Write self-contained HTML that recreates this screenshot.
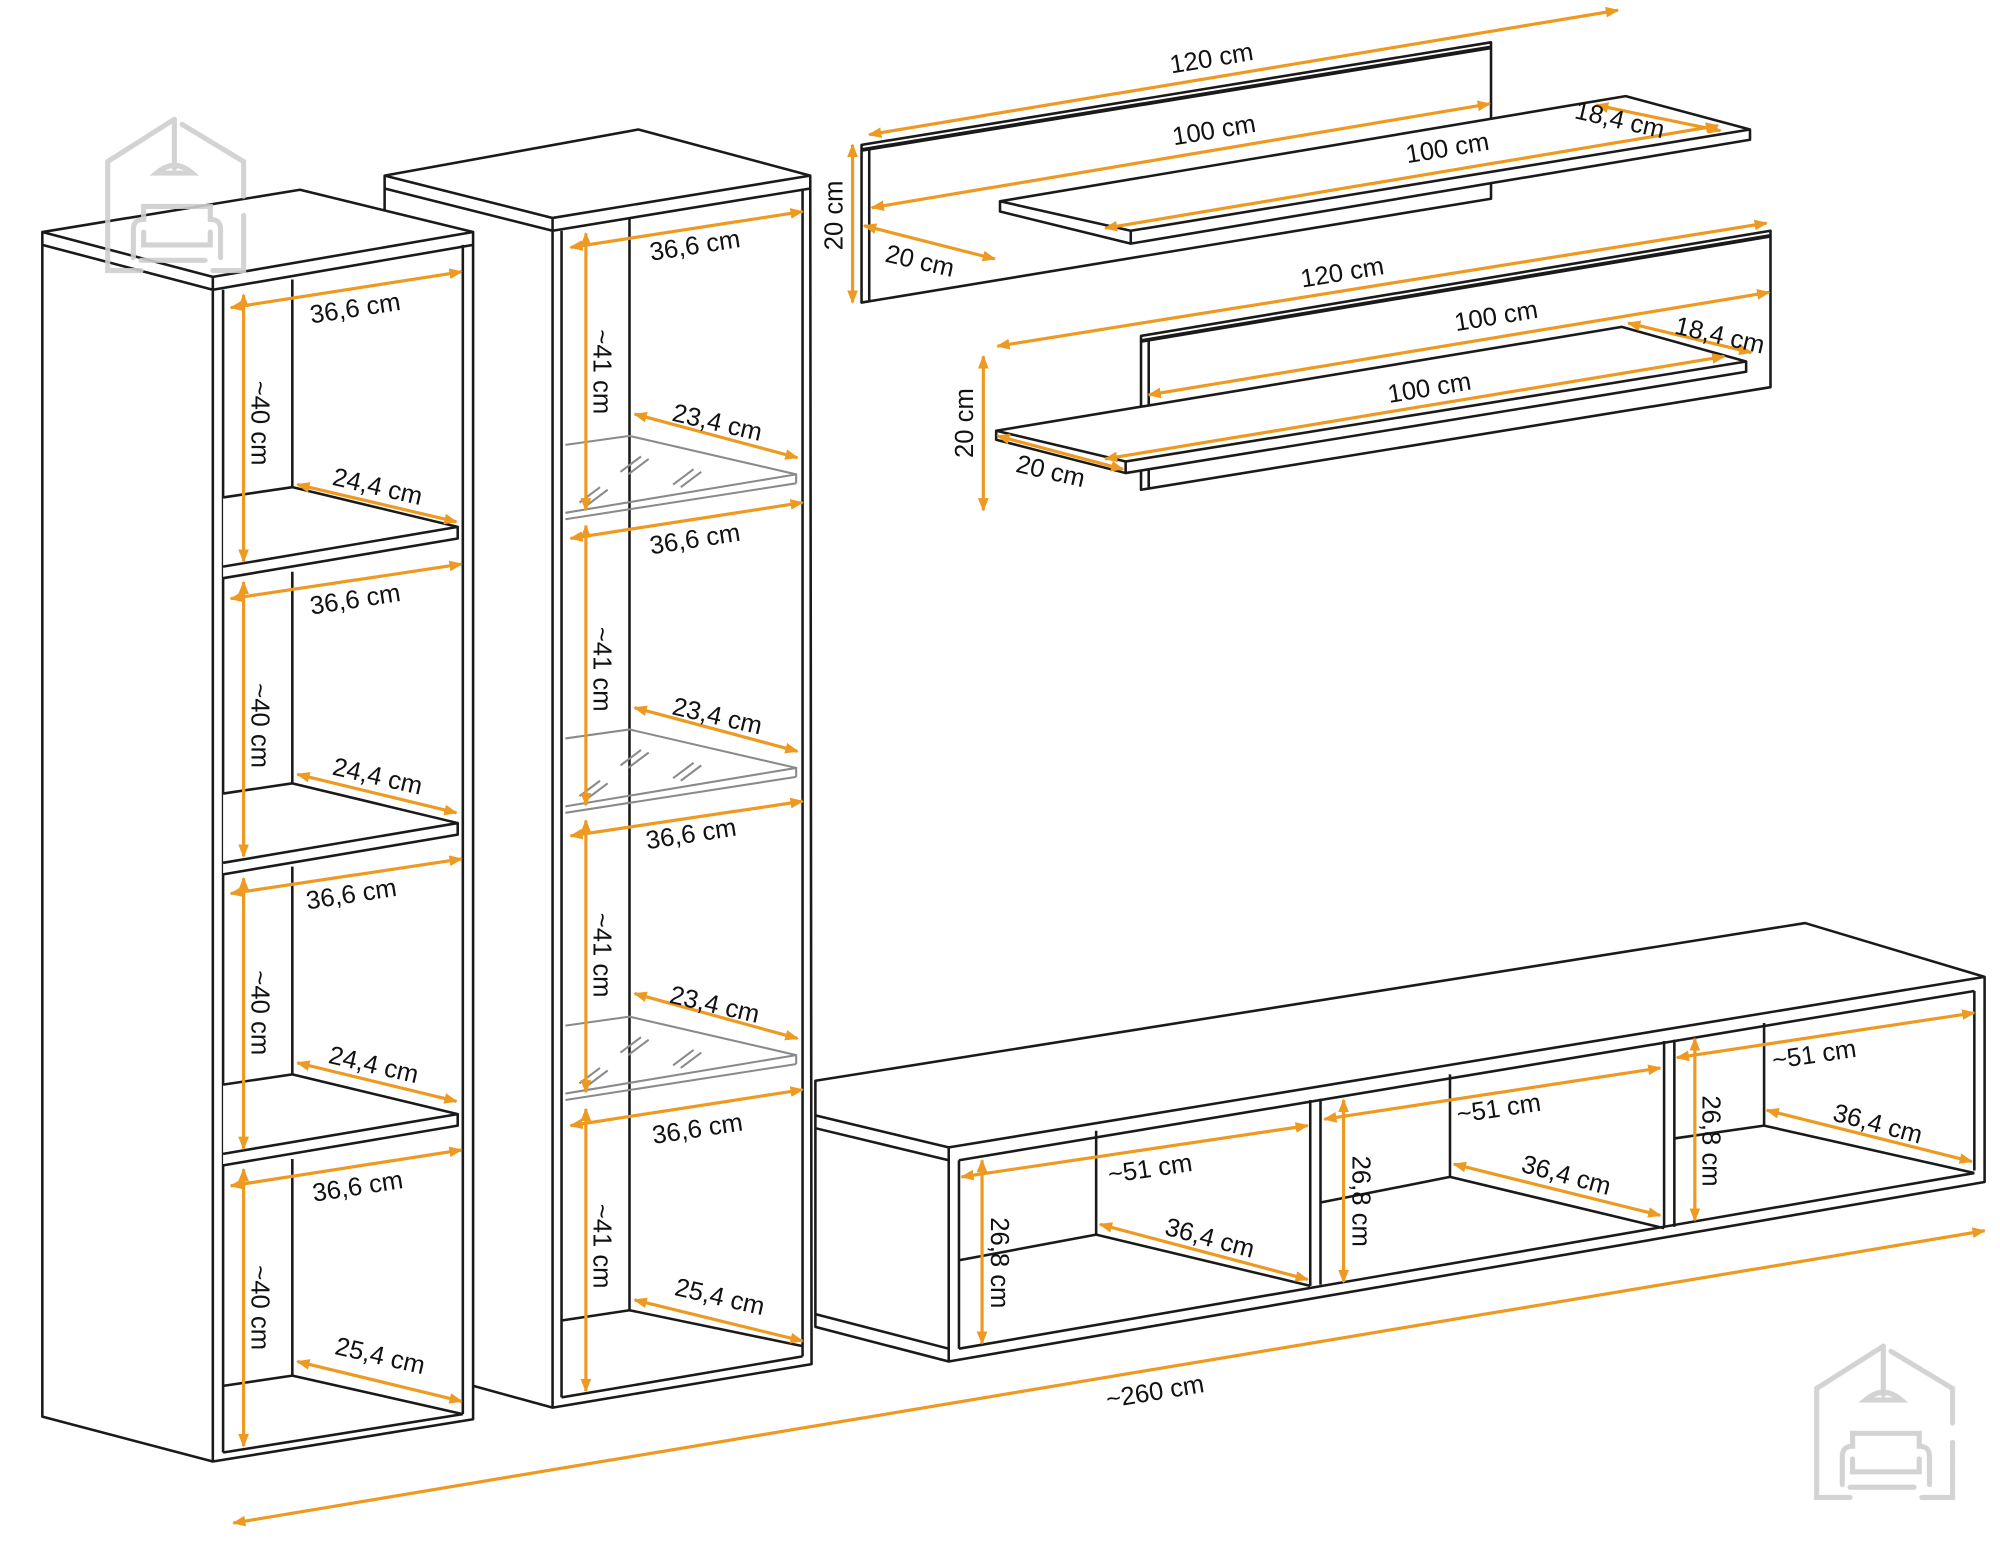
<!DOCTYPE html>
<html><head><meta charset="utf-8"><style>html,body{margin:0;padding:0;background:#fff}svg{display:block}</style></head>
<body>
<svg width="2000" height="1541" viewBox="0 0 1560 1202" xmlns="http://www.w3.org/2000/svg">
<defs>
<marker id="a" viewBox="0 0 10 10" refX="9" refY="5" markerWidth="4.2" markerHeight="4.2" orient="auto-start-reverse" markerUnits="strokeWidth"><path d="M0,1 L10,5 L0,9 Z" fill="#EE9A22"/></marker>
</defs>
<rect width="1560" height="1202" fill="#fff"/>

<g fill="none" stroke="#1a1a1a" stroke-width="2" stroke-linejoin="round">
<!-- wall shelf 1 -->
<polygon points="672,113 1163,33 1163,155 672,236" fill="#fff"/>
<line x1="672" y1="117" x2="1163" y2="37" stroke-width="3"/>
<line x1="678" y1="116" x2="678" y2="235"/>
<polygon points="780,157 1268,75 1365,101 1365,109 882,190 780,165" fill="#fff"/>
<polyline points="780,157 882,180 1365,101"/>
<line x1="882" y1="180" x2="882" y2="190"/>

<!-- wall shelf 2 -->
<polygon points="890,262 1381,180 1381,302 890,382" fill="#fff"/>
<line x1="890" y1="266" x2="1381" y2="184" stroke-width="3"/>
<line x1="896" y1="265" x2="896" y2="381"/>
<polygon points="777,336 1265,255 1362,282 1362,290 878,369 777,343" fill="#fff"/>
<polyline points="777,336 878,360 1362,282"/>
<line x1="878" y1="360" x2="878" y2="369"/>

<!-- TV unit -->
<polygon points="636,843 1408,720 1548,762 1548,922 740,1062 636,1035" fill="#fff"/>
<polyline points="636,870 740,895 1548,762"/>
<polyline points="636,880 740,905"/>
<line x1="748" y1="905" x2="1540" y2="773"/>
<line x1="740" y1="895" x2="740" y2="1062"/>
<line x1="748" y1="905" x2="748" y2="1052"/>
<line x1="1540" y1="773" x2="1540" y2="913"/>
<line x1="748" y1="1052" x2="1540" y2="915"/>
<line x1="636" y1="1025" x2="740" y2="1052"/>
<line x1="1022" y1="858" x2="1022" y2="1003"/>
<line x1="1030" y1="857" x2="1030" y2="1002"/>
<line x1="1298" y1="812" x2="1298" y2="958"/>
<line x1="1306" y1="811" x2="1306" y2="957"/>
<polyline points="855,882 855,963 1022,1003"/><line x1="748" y1="983" x2="855" y2="963"/>
<polyline points="1131,838 1131,918 1298,958"/><line x1="1030" y1="938" x2="1131" y2="918"/>
<polyline points="1376,798 1376,878 1540,915"/><line x1="1306" y1="888" x2="1376" y2="878"/>

<!-- middle cabinet -->
<polygon points="300,137 498,101 632,137 633,1064 431,1098 300,1062" fill="#fff"/>
<polyline points="300,137 431,170 632,137"/>
<polyline points="300,147 431,180 632,147"/>
<line x1="431" y1="170" x2="431" y2="1098"/>
<line x1="438" y1="180" x2="438" y2="1090"/>
<line x1="626" y1="147" x2="626" y2="1058"/>
<line x1="491" y1="170" x2="491" y2="1022"/>
<polyline points="438,1030 491,1022 626,1050"/>
<line x1="438" y1="1090" x2="626" y2="1058"/>
</g>

<!-- glass shelves -->
<g fill="none" stroke="#8a8a8a" stroke-width="1.6">
 <g>
  <polyline points="441,347 491,340 621,370 621,377"/><line x1="441" y1="400" x2="621" y2="370"/><line x1="441" y1="405" x2="621" y2="377"/>
  <path d="M452,392 l16,-12 M458,394 l16,-12 M484,368 l16,-12 M490,370 l16,-12 M525,378 l16,-12 M531,380 l16,-12"/>
 </g>
 <g transform="translate(0,229)">
  <polyline points="441,347 491,340 621,370 621,377"/><line x1="441" y1="400" x2="621" y2="370"/><line x1="441" y1="405" x2="621" y2="377"/>
  <path d="M452,392 l16,-12 M458,394 l16,-12 M484,368 l16,-12 M490,370 l16,-12 M525,378 l16,-12 M531,380 l16,-12"/>
 </g>
 <g transform="translate(0,453)">
  <polyline points="441,347 491,340 621,370 621,377"/><line x1="441" y1="400" x2="621" y2="370"/><line x1="441" y1="405" x2="621" y2="377"/>
  <path d="M452,392 l16,-12 M458,394 l16,-12 M484,368 l16,-12 M490,370 l16,-12 M525,378 l16,-12 M531,380 l16,-12"/>
 </g>
</g>

<!-- left cabinet -->
<g fill="none" stroke="#1a1a1a" stroke-width="2" stroke-linejoin="round">
<polygon points="33,181 234,148 369,181 369,1107 166,1140 33,1105" fill="#fff"/>
<polyline points="33,181 166,216 369,181"/>
<polyline points="33,191 166,226 369,191"/>
<line x1="166" y1="216" x2="166" y2="1140"/>
<line x1="174" y1="226" x2="174" y2="1133"/>
<line x1="361" y1="191" x2="361" y2="1103"/>
<line x1="174" y1="1133" x2="361" y2="1103"/>
<line x1="228" y1="218" x2="228" y2="380"/>
<line x1="228" y1="446" x2="228" y2="611"/>
<line x1="228" y1="676" x2="228" y2="838"/>
<line x1="228" y1="904" x2="228" y2="1073"/>
<polyline points="174,1081 228,1073 361,1103"/>
<g>
 <polyline points="174,388 228,380 357,411 357,420 174,451" fill="#fff"/><line x1="174" y1="442" x2="357" y2="411"/>
</g>
<g transform="translate(0,231)">
 <polyline points="174,388 228,380 357,411 357,420 174,451" fill="#fff"/><line x1="174" y1="442" x2="357" y2="411"/>
</g>
<g transform="translate(0,458)">
 <polyline points="174,388 228,380 357,411 357,420 174,451" fill="#fff"/><line x1="174" y1="442" x2="357" y2="411"/>
</g>
</g>

<!-- logos (drawn on top) -->
<g fill="none" stroke="#cfcfcf" stroke-width="4" stroke-linecap="round" opacity="0.9">
 <g transform="translate(82,93)">
  <path d="M2,100 V33 L54,0 M60,4 L108,33 V60 M108,75 V118 H84 M2,90 V118 H28"/>
  <path d="M54,0 V38 M40,42 Q54,30 68,42 Z"/>
  <path d="M22,108 V86 Q22,78 30,78 V68 H82 V78 Q90,78 90,86 V108 M30,88 V98 H82 V88 M28,110 H78"/>
 </g>
 <g transform="translate(1415,1050)">
  <path d="M2,100 V33 L54,0 M60,4 L108,33 V60 M108,75 V118 H84 M2,90 V118 H28"/>
  <path d="M54,0 V38 M40,42 Q54,30 68,42 Z"/>
  <path d="M22,108 V86 Q22,78 30,78 V68 H82 V78 Q90,78 90,86 V108 M30,88 V98 H82 V88 M28,110 H78"/>
 </g>
</g>

<!-- dimension lines -->
<g stroke="#EE9A22" stroke-width="2.5" fill="none" marker-start="url(#a)" marker-end="url(#a)">
 <line x1="180" y1="240" x2="360" y2="212"/><line x1="180" y1="467" x2="360" y2="440"/>
 <line x1="180" y1="697" x2="360" y2="670"/><line x1="180" y1="925" x2="360" y2="897"/>
 <line x1="190" y1="230" x2="190" y2="438"/><line x1="190" y1="454" x2="190" y2="668"/>
 <line x1="190" y1="685" x2="190" y2="896"/><line x1="190" y1="912" x2="190" y2="1128"/>
 <line x1="232" y1="378" x2="356" y2="407"/><line x1="232" y1="604" x2="356" y2="634"/>
 <line x1="232" y1="829" x2="356" y2="859"/><line x1="232" y1="1062" x2="360" y2="1093"/>

 <line x1="445" y1="193" x2="626" y2="165"/><line x1="445" y1="420" x2="626" y2="392"/>
 <line x1="445" y1="652" x2="626" y2="625"/><line x1="445" y1="878" x2="626" y2="850"/>
 <line x1="457" y1="182" x2="457" y2="398"/><line x1="457" y1="410" x2="457" y2="628"/>
 <line x1="457" y1="640" x2="457" y2="852"/><line x1="457" y1="865" x2="457" y2="1085"/>
 <line x1="495" y1="323" x2="622" y2="357"/><line x1="495" y1="552" x2="622" y2="586"/>
 <line x1="495" y1="775" x2="622" y2="810"/><line x1="495" y1="1014" x2="626" y2="1046"/>

 <line x1="678" y1="105" x2="1262" y2="8"/>
 <line x1="680" y1="162" x2="1162" y2="81"/>
 <line x1="862" y1="178" x2="1340" y2="98"/>
 <line x1="1245" y1="82" x2="1342" y2="102"/>
 <line x1="665" y1="113" x2="665" y2="236"/>
 <line x1="674" y1="176" x2="776" y2="202"/>

 <line x1="778" y1="270" x2="1378" y2="174"/>
 <line x1="896" y1="308" x2="1380" y2="228"/>
 <line x1="1270" y1="252" x2="1366" y2="275"/>
 <line x1="862" y1="358" x2="1345" y2="278"/>
 <line x1="767" y1="278" x2="767" y2="398"/>
 <line x1="778" y1="340" x2="876" y2="366"/>

 <line x1="750" y1="918" x2="1020" y2="878"/><line x1="1033" y1="873" x2="1295" y2="833"/><line x1="1308" y1="825" x2="1540" y2="790"/>
 <line x1="766" y1="905" x2="766" y2="1048"/><line x1="1048" y1="858" x2="1048" y2="1000"/><line x1="1322" y1="810" x2="1322" y2="952"/>
 <line x1="858" y1="955" x2="1020" y2="998"/><line x1="1134" y1="908" x2="1295" y2="948"/><line x1="1378" y1="866" x2="1538" y2="906"/>
 <line x1="182" y1="1188" x2="1548" y2="960"/>
</g>

<!-- labels -->
<g font-family="Liberation Sans, Arial, sans-serif" font-size="20" fill="#111" text-anchor="middle">
 <text transform="translate(278,247) rotate(-8.7)">36,6 cm</text>
 <text transform="translate(278,474) rotate(-8.7)">36,6 cm</text>
 <text transform="translate(275,704) rotate(-8.7)">36,6 cm</text>
 <text transform="translate(280,932) rotate(-8.7)">36,6 cm</text>
 <text transform="translate(196,330) rotate(90)">~40 cm</text>
 <text transform="translate(196,566) rotate(90)">~40 cm</text>
 <text transform="translate(196,790) rotate(90)">~40 cm</text>
 <text transform="translate(196,1020) rotate(90)">~40 cm</text>
 <text transform="translate(293,386) rotate(13)">24,4 cm</text>
 <text transform="translate(293,612) rotate(13)">24,4 cm</text>
 <text transform="translate(290,837) rotate(13)">24,4 cm</text>
 <text transform="translate(295,1064) rotate(13)">25,4 cm</text>

 <text transform="translate(543,198) rotate(-8.7)">36,6 cm</text>
 <text transform="translate(543,427) rotate(-8.7)">36,6 cm</text>
 <text transform="translate(540,657) rotate(-8.7)">36,6 cm</text>
 <text transform="translate(545,887) rotate(-8.7)">36,6 cm</text>
 <text transform="translate(463,290) rotate(90)">~41 cm</text>
 <text transform="translate(463,522) rotate(90)">~41 cm</text>
 <text transform="translate(463,745) rotate(90)">~41 cm</text>
 <text transform="translate(463,972) rotate(90)">~41 cm</text>
 <text transform="translate(558,336) rotate(13)">23,4 cm</text>
 <text transform="translate(558,565) rotate(13)">23,4 cm</text>
 <text transform="translate(556,790) rotate(13)">23,4 cm</text>
 <text transform="translate(560,1018) rotate(13)">25,4 cm</text>

 <text transform="translate(946,52) rotate(-9.4)">120 cm</text>
 <text transform="translate(948,108) rotate(-9.4)">100 cm</text>
 <text transform="translate(1130,122) rotate(-9.4)">100 cm</text>
 <text transform="translate(1262,100) rotate(13)">18,4 cm</text>
 <text transform="translate(657,168) rotate(-90)">20 cm</text>
 <text transform="translate(716,210) rotate(13)">20 cm</text>

 <text transform="translate(1048,219) rotate(-9.4)">120 cm</text>
 <text transform="translate(1168,253) rotate(-9.4)">100 cm</text>
 <text transform="translate(1340,268) rotate(13)">18,4 cm</text>
 <text transform="translate(1116,309) rotate(-9.4)">100 cm</text>
 <text transform="translate(759,330) rotate(-90)">20 cm</text>
 <text transform="translate(818,374) rotate(13)">20 cm</text>

 <text transform="translate(898,918) rotate(-8.4)">~51 cm</text>
 <text transform="translate(1170,871) rotate(-8.4)">~51 cm</text>
 <text transform="translate(1416,829) rotate(-8.4)">~51 cm</text>
 <text transform="translate(773,985) rotate(90)">26,8 cm</text>
 <text transform="translate(1055,937) rotate(90)">26,8 cm</text>
 <text transform="translate(1328,890) rotate(90)">26,8 cm</text>
 <text transform="translate(942,972) rotate(15)">36,4 cm</text>
 <text transform="translate(1220,923) rotate(15)">36,4 cm</text>
 <text transform="translate(1463,883) rotate(15)">36,4 cm</text>
 <text transform="translate(902,1092) rotate(-9.5)">~260 cm</text>
</g>
</svg>
</body></html>
